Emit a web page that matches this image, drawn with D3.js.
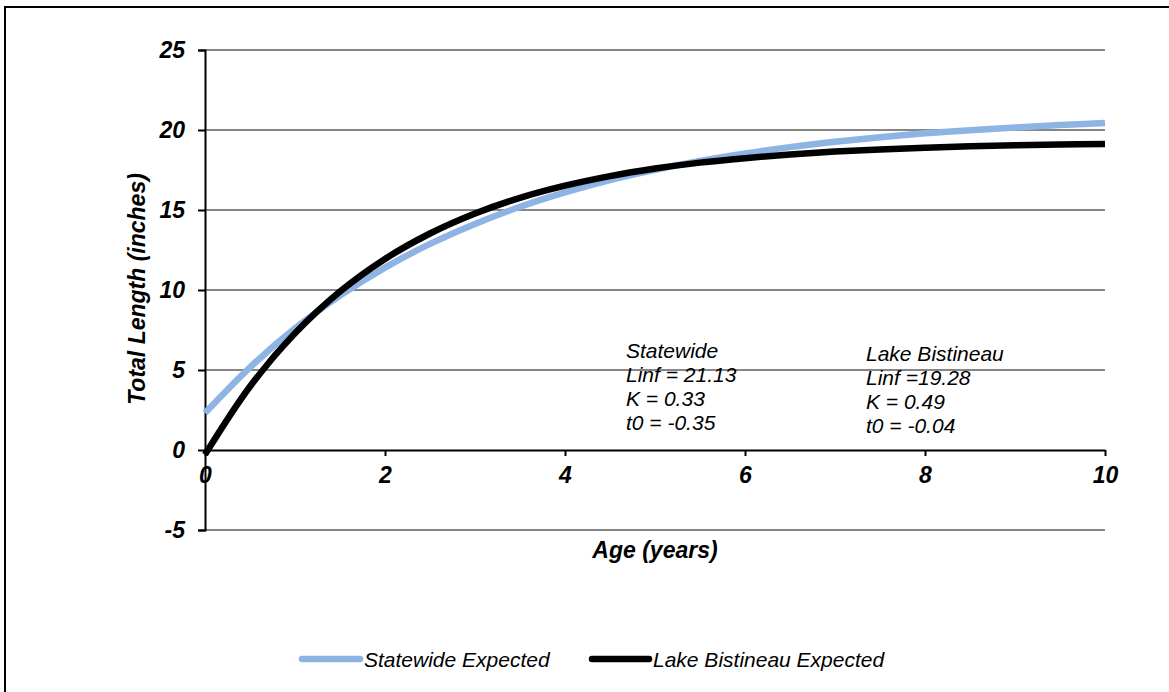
<!DOCTYPE html>
<html><head><meta charset="utf-8">
<script src="https://cdn.jsdelivr.net/npm/d3@7"></script>
<style>body{margin:0;background:#fff}svg{display:block}text{font-family:"Liberation Sans",Arial,sans-serif}</style>
</head><body><svg id="c" width="1169" height="692"></svg>
<script>
const ages = [0,0.5,1,1.5,2,2.5,3,3.5,4,4.5,5,5.5,6,6.5,7,7.5,8,8.5,9,9.5,10];
const statewide = [2.31,5.17,7.60,9.65,11.40,12.88,14.13,15.20,16.10,16.87,17.51,18.06,18.53,18.93,19.26,19.55,19.79,19.99,20.16,20.31,20.43];
const bistineau = [-0.29,3.97,7.29,9.90,11.94,13.53,14.78,15.76,16.52,17.12,17.59,17.96,18.24,18.47,18.65,18.78,18.89,18.98,19.04,19.09,19.13];
const yTicks = [-5,0,5,10,15,20,25];
const xTicks = [0,2,4,6,8,10];
const seriesNames = ["Statewide Expected","Lake Bistineau Expected"];
const seriesColors = ["#8EB4E3","#000000"];
const notesStatewide = ["Statewide","Linf = 21.13","K = 0.33","t0 = -0.35"];
const notesBistineau = ["Lake Bistineau","Linf =19.28","K = 0.49","t0 = -0.04"];

const svg = d3.select("#c");
svg.append("rect").attr("x",5).attr("y",7).attr("width",1175).attr("height",700)
  .attr("fill","none").attr("stroke","#000").attr("stroke-width",2);

const x = d3.scaleLinear().domain([0,10]).range([205,1105]);
const y = d3.scaleLinear().domain([-5,25]).range([530,50]);
const fmt = d => String(d);

// gridlines
svg.append("g").selectAll("line").data(yTicks.filter(d=>d!==0)).join("line")
  .attr("x1",x(0)).attr("x2",x(10)).attr("y1",d=>y(d)).attr("y2",d=>y(d))
  .attr("stroke","#868686").attr("stroke-width",2);

// y axis
const ya = svg.append("g").attr("transform",`translate(${x(0)},0)`)
  .call(d3.axisLeft(y).tickValues(yTicks).tickFormat(fmt).tickSize(7).tickPadding(13));
ya.select(".domain").attr("stroke","#000").attr("stroke-width",2);
ya.selectAll(".tick line").attr("stroke","#000").attr("stroke-width",2);
ya.selectAll("text").attr("font-size",23).attr("font-weight","bold").attr("font-style","italic").attr("fill","#000");

// x axis at zero
const xa = svg.append("g").attr("transform",`translate(0,${y(0)})`)
  .call(d3.axisBottom(x).tickValues(xTicks).tickFormat(fmt).tickSize(6).tickPadding(11).tickSizeOuter(0));
xa.select(".domain").attr("stroke","#000").attr("stroke-width",2);
xa.selectAll(".tick line").attr("stroke","#000").attr("stroke-width",2);
xa.selectAll("text").attr("font-size",23).attr("font-weight","bold").attr("font-style","italic").attr("fill","#000");

// axis titles
svg.append("text").attr("x",655).attr("y",558).attr("text-anchor","middle")
  .attr("font-size",23).attr("font-weight","bold").attr("font-style","italic").text("Age (years)");
svg.append("text").attr("transform","translate(145,289) rotate(-90)").attr("text-anchor","middle")
  .attr("font-size",23).attr("font-weight","bold").attr("font-style","italic").text("Total Length (inches)");

// lines
const line = d3.line().x((d,i)=>x(ages[i])).y(d=>y(d)).curve(d3.curveCatmullRom.alpha(0.5));
[statewide,bistineau].forEach((s,k)=>{
  svg.append("path").attr("d",line(s)).attr("fill","none")
    .attr("stroke",seriesColors[k]).attr("stroke-width",6.5).attr("stroke-linejoin","round");
});

// annotations
function notes(arr,x0,y0){
  svg.append("g").selectAll("text").data(arr).join("text")
    .attr("x",x0).attr("y",(d,i)=>y0+i*24).attr("font-size",21).attr("font-style","italic").text(d=>d);
}
notes(notesStatewide,626,358);
notes(notesBistineau,866,361);

// legend
const lg = [{x1:302,x2:360,tx:364},{x1:592,x2:649,tx:653}];
lg.forEach((p,k)=>{
  svg.append("line").attr("x1",p.x1).attr("x2",p.x2).attr("y1",659).attr("y2",659)
    .attr("stroke",seriesColors[k]).attr("stroke-width",6.5).attr("stroke-linecap","round");
  svg.append("text").attr("x",p.tx).attr("y",667).attr("font-size",21).attr("font-style","italic").text(seriesNames[k]);
});
</script></body></html>
